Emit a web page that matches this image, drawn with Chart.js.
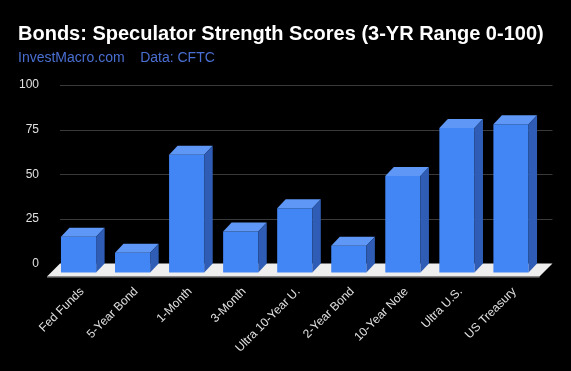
<!DOCTYPE html>
<html>
<head>
<meta charset="utf-8">
<script src="https://cdn.jsdelivr.net/npm/chart.js@4"></script>
<style>
html,body{margin:0;padding:0;background:#000;}
canvas{display:block;}
</style>
</head>
<body>
<canvas id="bondsChart" width="571" height="371"></canvas>
<script>
// speculator strength scores
const categories=["Fed Funds","5-Year Bond","1-Month","3-Month","Ultra 10-Year U.","2-Year Bond","10-Year Note","Ultra U.S.","US Treasury"];
const scores=[20,11,66,23,36,15,54,81,83];
const yTicks=[0,25,50,75,100];

// depth of the bars and the floor (pixels)
const DX=8.5,DY=9;
const FLOOR=13;

const fake3d={
id:"fake3d",
beforeDatasetsDraw(chart){
const ctx=chart.ctx;
const a=chart.chartArea;
const y=chart.scales.y;
// grid lines on the back wall
ctx.save();
ctx.strokeStyle="#3a3a3a";
ctx.lineWidth=1;
yTicks.forEach(v=>{
if(v===0)return;
const py=Math.round(y.getPixelForValue(v))+.5;
ctx.beginPath();
ctx.moveTo(a.left,py);
ctx.lineTo(a.right+6,py);
ctx.stroke();
});
// floor
const b=y.getPixelForValue(0);
ctx.fillStyle="#eeeeee";
ctx.beginPath();
ctx.moveTo(a.left,b);
ctx.lineTo(a.right+6,b);
ctx.lineTo(a.right+6-FLOOR,b+FLOOR);
ctx.lineTo(a.left-FLOOR,b+FLOOR);
ctx.closePath();
ctx.fill();
ctx.strokeStyle="#9a9a9a";
ctx.beginPath();
ctx.moveTo(a.left-FLOOR,b+FLOOR+.5);
ctx.lineTo(a.right+6-FLOOR,b+FLOOR+.5);
ctx.stroke();
ctx.restore();
// front faces are drawn by chart.js, pushed forward
ctx.save();
ctx.translate(-DX,DY);
},
afterDatasetsDraw(chart){
const ctx=chart.ctx;
ctx.restore();
const meta=chart.getDatasetMeta(0);
ctx.save();
meta.data.forEach(bar=>{
const p=bar.getProps(["x","y","base","width"],true);
const L=p.x-p.width/2-DX,R=p.x+p.width/2-DX;
const T=p.y+DY,B=p.base+DY;
// top
ctx.fillStyle="#5e97f6";
ctx.beginPath();
ctx.moveTo(L,T);
ctx.lineTo(R,T);
ctx.lineTo(R+DX,T-DY);
ctx.lineTo(L+DX,T-DY);
ctx.closePath();
ctx.fill();
// side
ctx.fillStyle="#2f5db5";
ctx.beginPath();
ctx.moveTo(R,T);
ctx.lineTo(R+DX,T-DY);
ctx.lineTo(R+DX,B-DY);
ctx.lineTo(R,B);
ctx.closePath();
ctx.fill();
});
ctx.restore();
}
};

new Chart(document.getElementById("bondsChart"),{
type:"bar",
data:{
labels:categories,
datasets:[{
data:scores,
backgroundColor:"#4285f4",
borderWidth:0,
barPercentage:.65,
categoryPercentage:1,
clip:false
}]
},
options:{
responsive:false,
animation:false,
layout:{padding:{left:18,right:24.5,top:0,bottom:0}},
plugins:{
legend:{display:false},
tooltip:{enabled:false},
title:{
display:true,
text:"Bonds: Speculator Strength Scores (3-YR Range 0-100)",
align:"start",
color:"#ffffff",
font:{family:"'Liberation Sans', Arial, sans-serif",size:20,weight:"bold"},
padding:{top:22,bottom:3.4}
},
subtitle:{
display:true,
text:"InvestMacro.com    Data: CFTC",
align:"start",
color:"#4a6fd2",
font:{family:"'Liberation Sans', Arial, sans-serif",size:14},
padding:{top:0,bottom:18.8}
}
},
scales:{
x:{
grid:{display:false},
border:{display:false},
ticks:{
color:"#e0e0e0",
font:{family:"'Liberation Sans', Arial, sans-serif",size:12},
autoSkip:false,
minRotation:45,
maxRotation:45,
labelOffset:-5,
padding:13
},
afterFit(s){s.height=107.5;}
},
y:{
min:0,
max:100,
grid:{display:false},
border:{display:false},
afterBuildTicks(s){s.ticks=yTicks.map(v=>({value:v}));},
ticks:{
color:"#e0e0e0",
font:{family:"'Liberation Sans', Arial, sans-serif",size:12},
padding:13
},
afterFit(s){s.width=42;}
}
}
},
plugins:[fake3d]
});
</script>
</body>
</html>
